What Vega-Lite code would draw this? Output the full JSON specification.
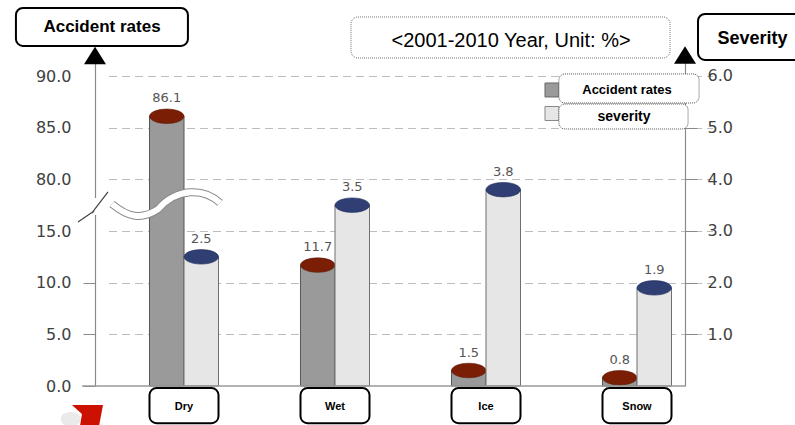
{
  "$schema": "https://vega.github.io/schema/vega-lite/v6.json",
  "width": 590,
  "height": 324,
  "autosize": "none",
  "padding": {"left": 95, "top": 62, "right": 110, "bottom": 39},
  "background": "white",
  "config": {"view": {"stroke": null}},
  "data": {
    "values": [
      {"category": "Dry", "series": "Accident rates", "value": 86.1},
      {"category": "Dry", "series": "severity", "value": 2.5},
      {"category": "Wet", "series": "Accident rates", "value": 11.7},
      {"category": "Wet", "series": "severity", "value": 3.5},
      {"category": "Ice", "series": "Accident rates", "value": 1.5},
      {"category": "Ice", "series": "severity", "value": 3.8},
      {"category": "Snow", "series": "Accident rates", "value": 0.8},
      {"category": "Snow", "series": "severity", "value": 1.9}
    ]
  },
  "resolve": {"scale": {"x": "independent", "y": "independent"}, "axis": {"y": "independent"}},
  "layer": [
    {
      "transform": [{"filter": "datum.series === 'Accident rates'"}],
      "encoding": {
        "x": {"field": "category", "type": "nominal", "axis": null,
              "scale": {"domain": ["Dry", "Wet", "Ice", "Snow"], "range": [13.5, 617.5], "paddingInner": 0.543, "paddingOuter": 0.2715, "align": 0.5}},
        "y": {"field": "value", "type": "quantitative",
              "scale": {"domain": [0, 15, 80, 90, 91.355], "range": [324, 169, 117.333, 14, 0], "nice": false, "zero": false},
              "axis": {
                "orient": "left", "values": [0, 5, 10, 15, 80, 85, 90], "format": ".1f", "title": null,
                "grid": true, "gridColor": "#bdbdbd", "gridDash": [8, 5], "gridWidth": 1,
                "gridOpacity": {"condition": {"test": "datum.value === 0", "value": 0}, "value": 1},
                "domain": true, "domainColor": "#8a8a8a", "domainWidth": 1.2,
                "ticks": true, "tickSize": 12, "tickColor": "#8a8a8a",
                "tickOpacity": {"condition": {"test": "datum.value <= 10", "value": 1}, "value": 0},
                "labelPadding": 12, "labelFont": "DejaVu Sans", "labelFontSize": 16, "labelColor": "#404040",
                "labelOverlap": false, "labelFlush": false, "zindex": 0
              }}
      },
      "layer": [
        {
          "mark": {"type": "bar", "fill": "#9a9a9a", "stroke": "#555555", "strokeWidth": 1},
          "encoding": {"xOffset": {"field": "series", "type": "nominal", "scale": {"domain": ["Accident rates", "severity"], "paddingInner": 0, "paddingOuter": 0}}}
        },
        {
          "mark": {"type": "point", "shape": "M-1,0C-1,-0.232 -0.552,-0.42 0,-0.42C0.552,-0.42 1,-0.232 1,0C1,0.232 0.552,0.42 0,0.42C-0.552,0.42 -1,0.232 -1,0Z",
                   "size": 1190, "filled": true, "fill": "#7a1e06", "stroke": "#5a1503", "strokeWidth": 0.6, "opacity": 1},
          "encoding": {"xOffset": {"field": "series", "type": "nominal", "scale": {"domain": ["Accident rates", "severity"], "paddingInner": 0, "paddingOuter": 0}}}
        },
        {
          "mark": {"type": "text", "dy": -18, "baseline": "middle", "font": "DejaVu Sans", "fontSize": 13, "fill": "#555555"},
          "encoding": {
            "xOffset": {"field": "series", "type": "nominal", "scale": {"domain": ["Accident rates", "severity"], "paddingInner": 0, "paddingOuter": 0}},
            "text": {"field": "value", "type": "quantitative", "format": ".1f"}
          }
        }
      ]
    },
    {
      "transform": [{"filter": "datum.series === 'severity'"}],
      "encoding": {
        "x": {"field": "category", "type": "nominal", "axis": null,
              "scale": {"domain": ["Dry", "Wet", "Ice", "Snow"], "range": [13.5, 617.5], "paddingInner": 0.543, "paddingOuter": 0.2715, "align": 0.5}},
        "y": {"field": "value", "type": "quantitative",
              "scale": {"domain": [0, 6.2706], "range": [324, 0], "nice": false, "zero": false},
              "axis": {
                "orient": "right", "values": [1, 2, 3, 4, 5, 6], "format": ".1f", "title": null,
                "grid": false, "domain": true, "domainColor": "#8a8a8a", "domainWidth": 1.2,
                "ticks": true, "tickSize": 12, "tickColor": "#8a8a8a",
                "labelPadding": 10, "labelFont": "DejaVu Sans", "labelFontSize": 16, "labelColor": "#404040",
                "labelOverlap": false, "labelFlush": false, "zindex": 0
              }}
      },
      "layer": [
        {
          "mark": {"type": "bar", "fill": "#e6e6e6", "stroke": "#6f6f6f", "strokeWidth": 1},
          "encoding": {"xOffset": {"field": "series", "type": "nominal", "scale": {"domain": ["Accident rates", "severity"], "paddingInner": 0, "paddingOuter": 0}}}
        },
        {
          "mark": {"type": "point", "shape": "M-1,0C-1,-0.232 -0.552,-0.42 0,-0.42C0.552,-0.42 1,-0.232 1,0C1,0.232 0.552,0.42 0,0.42C-0.552,0.42 -1,0.232 -1,0Z",
                   "size": 1190, "filled": true, "fill": "#2f3f74", "stroke": "#1f2a55", "strokeWidth": 0.6, "opacity": 1},
          "encoding": {"xOffset": {"field": "series", "type": "nominal", "scale": {"domain": ["Accident rates", "severity"], "paddingInner": 0, "paddingOuter": 0}}}
        },
        {
          "mark": {"type": "text", "dy": -18, "baseline": "middle", "font": "DejaVu Sans", "fontSize": 13, "fill": "#555555"},
          "encoding": {
            "xOffset": {"field": "series", "type": "nominal", "scale": {"domain": ["Accident rates", "severity"], "paddingInner": 0, "paddingOuter": 0}},
            "text": {"field": "value", "type": "quantitative", "format": ".1f"}
          }
        },
        {
          "mark": {"type": "rect", "cornerRadius": 7, "fill": "white", "stroke": "black", "strokeWidth": 2},
          "encoding": {"y": {"datum": -0.04, "type": "quantitative"}, "y2": {"datum": -0.72}}
        },
        {
          "mark": {"type": "text", "baseline": "middle", "align": "center", "font": "Liberation Sans", "fontWeight": "bold", "fontSize": 11, "fill": "black"},
          "encoding": {"y": {"datum": -0.406, "type": "quantitative"}, "text": {"field": "category", "type": "nominal"}}
        }
      ]
    },
    {
      "data": {"values": [{}]},
      "layer": [
        {
          "mark": {"type": "rule", "stroke": "#9a9a9a", "strokeWidth": 1.5},
          "encoding": {
            "x": {"datum": -0.675, "type": "quantitative", "axis": null, "scale": {"domain": [0, 3], "range": [89, 542], "nice": false, "zero": false}},
            "x2": {"datum": 3.318},
            "y": {"datum": 0, "type": "quantitative", "axis": null, "scale": {"domain": [0, 6.2706], "range": [324, 0], "nice": false, "zero": false}}
          }
        },
        {
          "mark": {"type": "rule", "stroke": "white", "strokeWidth": 4},
          "encoding": {
            "x": {"datum": -0.5894, "type": "quantitative", "axis": null},
            "y": {"datum": 3.639, "type": "quantitative", "axis": null},
            "y2": {"datum": 3.31}
          }
        },
        {
          "mark": {"type": "point", "shape": "M-1,1L0.07,0.27L-0.07,0.4L1,-1", "size": 900, "filled": false, "stroke": "#444444", "strokeWidth": 1.2, "opacity": 1},
          "encoding": {
            "x": {"datum": -0.6026, "type": "quantitative", "axis": null},
            "y": {"datum": 3.465, "type": "quantitative", "axis": null}
          }
        },
        {
          "mark": {"type": "point", "shape": "M-1,0C-0.7,0.25 -0.45,0.3 -0.15,0.1C0.2,-0.3 0.7,-0.3 1,-0.02", "size": 11664, "filled": false, "stroke": "#8a8a8a", "strokeWidth": 8, "opacity": 1},
          "encoding": {
            "x": {"datum": -0.119, "type": "quantitative", "axis": null},
            "y": {"datum": 3.523, "type": "quantitative", "axis": null}
          }
        },
        {
          "mark": {"type": "point", "shape": "M-1,0C-0.7,0.25 -0.45,0.3 -0.15,0.1C0.2,-0.3 0.7,-0.3 1,-0.02", "size": 11664, "filled": false, "stroke": "white", "strokeWidth": 6, "opacity": 1},
          "encoding": {
            "x": {"datum": -0.119, "type": "quantitative", "axis": null},
            "y": {"datum": 3.523, "type": "quantitative", "axis": null}
          }
        },
        {
          "mark": {"type": "point", "shape": "M0,-0.8L1,0.8L-1,0.8Z", "size": 484, "filled": true, "fill": "black", "opacity": 1},
          "encoding": {
            "x": {"datum": -0.5894, "type": "quantitative", "axis": null},
            "y": {"datum": 6.397, "type": "quantitative", "axis": null}
          }
        },
        {
          "mark": {"type": "point", "shape": "M0,-0.8L1,0.8L-1,0.8Z", "size": 484, "filled": true, "fill": "black", "opacity": 1},
          "encoding": {
            "x": {"datum": 3.318, "type": "quantitative", "axis": null},
            "y": {"datum": 6.406, "type": "quantitative", "axis": null}
          }
        },
        {
          "mark": {"type": "rect", "cornerRadius": 7, "fill": "white", "stroke": "black", "strokeWidth": 2},
          "encoding": {
            "x": {"datum": -1.113, "type": "quantitative", "axis": null},
            "x2": {"datum": 0.026},
            "y": {"datum": 7.316, "type": "quantitative", "axis": null},
            "y2": {"datum": 6.581}
          }
        },
        {
          "mark": {"type": "text", "text": "Accident rates", "align": "center", "baseline": "middle", "font": "Liberation Sans", "fontWeight": "bold", "fontSize": 17, "fill": "black"},
          "encoding": {
            "x": {"datum": -0.543, "type": "quantitative", "axis": null},
            "y": {"datum": 6.948, "type": "quantitative", "axis": null}
          }
        },
        {
          "mark": {"type": "rect", "cornerRadius": 7, "fill": "white", "stroke": "black", "strokeWidth": 2},
          "encoding": {
            "x": {"datum": 3.404, "type": "quantitative", "axis": null},
            "x2": {"datum": 4.1},
            "y": {"datum": 7.2, "type": "quantitative", "axis": null},
            "y2": {"datum": 6.31}
          }
        },
        {
          "mark": {"type": "text", "text": "Severity", "align": "center", "baseline": "middle", "font": "Liberation Sans", "fontWeight": "bold", "fontSize": 18, "fill": "black"},
          "encoding": {
            "x": {"datum": 3.765, "type": "quantitative", "axis": null},
            "y": {"datum": 6.716, "type": "quantitative", "axis": null}
          }
        },
        {
          "mark": {"type": "rect", "cornerRadius": 7, "fill": "white", "stroke": "#777777", "strokeWidth": 1, "strokeDash": [1, 1]},
          "encoding": {
            "x": {"datum": 1.106, "type": "quantitative", "axis": null},
            "x2": {"datum": 3.219},
            "y": {"datum": 7.142, "type": "quantitative", "axis": null},
            "y2": {"datum": 6.348}
          }
        },
        {
          "mark": {"type": "text", "text": "<2001-2010 Year, Unit: %>", "align": "center", "baseline": "middle", "font": "Liberation Sans", "fontSize": 20, "fill": "black"},
          "encoding": {
            "x": {"datum": 2.166, "type": "quantitative", "axis": null},
            "y": {"datum": 6.677, "type": "quantitative", "axis": null}
          }
        },
        {
          "mark": {"type": "point", "shape": "square", "size": 196, "filled": true, "fill": "#9a9a9a", "stroke": "#666666", "strokeWidth": 1, "opacity": 1},
          "encoding": {
            "x": {"datum": 2.437, "type": "quantitative", "axis": null},
            "y": {"datum": 5.729, "type": "quantitative", "axis": null}
          }
        },
        {
          "mark": {"type": "point", "shape": "square", "size": 196, "filled": true, "fill": "#e6e6e6", "stroke": "#888888", "strokeWidth": 1, "opacity": 1},
          "encoding": {
            "x": {"datum": 2.437, "type": "quantitative", "axis": null},
            "y": {"datum": 5.274, "type": "quantitative", "axis": null}
          }
        },
        {
          "mark": {"type": "rect", "cornerRadius": 6, "fill": "white", "stroke": "#555555", "strokeWidth": 1, "strokeDash": [1, 1]},
          "encoding": {
            "x": {"datum": 2.483, "type": "quantitative", "axis": null},
            "x2": {"datum": 3.411},
            "y": {"datum": 6.039, "type": "quantitative", "axis": null},
            "y2": {"datum": 5.477}
          }
        },
        {
          "mark": {"type": "rect", "cornerRadius": 6, "fill": "white", "stroke": "#555555", "strokeWidth": 1, "strokeDash": [1, 1]},
          "encoding": {
            "x": {"datum": 2.483, "type": "quantitative", "axis": null},
            "x2": {"datum": 3.338},
            "y": {"datum": 5.458, "type": "quantitative", "axis": null},
            "y2": {"datum": 4.974}
          }
        },
        {
          "mark": {"type": "text", "text": "Accident rates", "align": "center", "baseline": "middle", "font": "Liberation Sans", "fontWeight": "bold", "fontSize": 13, "fill": "black"},
          "encoding": {
            "x": {"datum": 2.934, "type": "quantitative", "axis": null},
            "y": {"datum": 5.729, "type": "quantitative", "axis": null}
          }
        },
        {
          "mark": {"type": "text", "text": "severity", "align": "center", "baseline": "middle", "font": "Liberation Sans", "fontWeight": "bold", "fontSize": 14, "fill": "black"},
          "encoding": {
            "x": {"datum": 2.914, "type": "quantitative", "axis": null},
            "y": {"datum": 5.206, "type": "quantitative", "axis": null}
          }
        },
        {
          "mark": {"type": "point", "shape": "M-1,0C-1,-0.5 -0.5,-0.7 0,-0.7C0.5,-0.7 1,-0.5 1,0C1,0.5 0.5,0.7 0,0.7C-0.5,0.7 -1,0.5 -1,0Z", "size": 400, "filled": true, "fill": "#d0d0d0", "opacity": 0.45},
          "encoding": {
            "x": {"datum": -0.75, "type": "quantitative", "axis": null},
            "y": {"datum": -0.64, "type": "quantitative", "axis": null}
          }
        },
        {
          "mark": {"type": "point", "shape": "M-1,-0.625L0.94,-0.625L0.69,0.7L-0.5,0.7L-0.375,-0.06Z", "size": 1024, "filled": true, "fill": "#cc1100", "opacity": 1},
          "encoding": {
            "x": {"datum": -0.636, "type": "quantitative", "axis": null},
            "y": {"datum": -0.561, "type": "quantitative", "axis": null}
          }
        }
      ]
    }
  ]
}
